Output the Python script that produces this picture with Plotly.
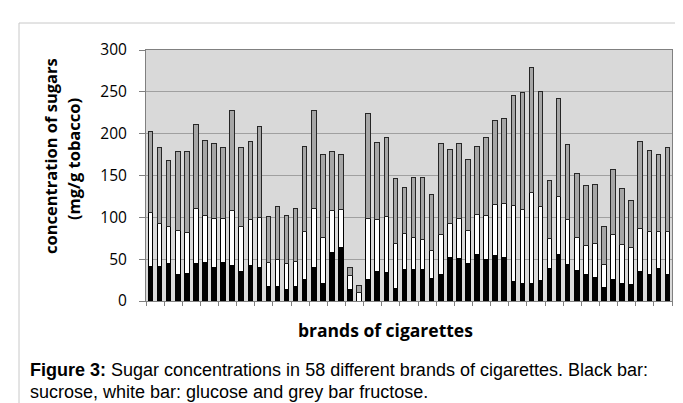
import plotly.graph_objects as go

brands = [str(i) for i in range(1, 59)]

sucrose = [41.5, 40.7, 44.3, 31.1, 32.7, 45.0, 45.9, 39.9, 45.9, 42.3,
           35.5, 42.3, 39.5, 17.6, 16.8, 13.2, 17.6, 26.3, 39.5, 20.7,
           57.8, 63.8, 13.2, 0.0, 26.3, 34.7, 33.5, 14.4, 37.5, 37.5,
           37.5, 27.1, 31.1, 51.9, 50.3, 45.0, 55.8, 49.9, 53.8, 51.9,
           23.1, 20.7, 21.5, 24.7, 38.7, 55.8, 43.9, 36.0, 31.1, 27.5,
           16.4, 25.9, 21.5, 20.3, 35.5, 31.1, 38.7, 31.1]
glucose = [64.2, 52.3, 44.7, 53.1, 49.1, 65.5, 55.8, 59.0, 52.6, 65.4,
           53.1, 55.0, 60.2, 28.7, 32.7, 31.5, 29.5, 56.3, 70.6, 55.1,
           50.3, 45.9, 16.7, 10.0, 71.8, 62.6, 67.4, 54.2, 43.5, 38.3,
           35.9, 33.5, 48.7, 41.1, 48.2, 39.2, 47.5, 51.8, 61.9, 65.0,
           90.6, 89.0, 108.5, 87.8, 35.5, 69.0, 53.1, 39.6, 35.1, 41.1,
           26.7, 53.5, 45.9, 43.9, 51.1, 52.3, 43.9, 51.5]
fructose = [96.3, 91.0, 79.0, 94.8, 97.2, 100.5, 90.3, 89.1, 85.5, 120.3,
            95.4, 93.7, 109.3, 54.7, 63.5, 57.3, 63.9, 102.4, 117.9, 99.2,
            70.9, 65.8, 10.4, 8.7, 125.9, 92.7, 95.1, 78.4, 55.0, 72.2,
            74.1, 67.0, 108.2, 88.5, 89.5, 84.8, 81.3, 93.3, 99.7, 100.9,
            132.3, 139.3, 149.6, 137.5, 69.4, 117.2, 90.5, 77.2, 71.4, 71.0,
            46.3, 77.4, 67.6, 56.3, 104.4, 96.6, 92.9, 101.4]

y_ticks = [0, 50, 100, 150, 200, 250, 300]

fig = go.Figure()
fig.add_trace(go.Bar(x=brands, y=sucrose, name="sucrose",
                     marker=dict(color="#000000", line=dict(color="#000000", width=1))))
fig.add_trace(go.Bar(x=brands, y=glucose, name="glucose",
                     marker=dict(color="#ffffff", line=dict(color="#000000", width=1))))
fig.add_trace(go.Bar(x=brands, y=fructose, name="fructose",
                     marker=dict(color="#a6a6a6", line=dict(color="#262626", width=1))))

fig.update_layout(
    barmode="stack",
    bargap=0.5,
    width=683, height=403,
    margin=dict(l=138, r=19, t=42, b=110),
    paper_bgcolor="#ffffff",
    plot_bgcolor="#d9d9d9",
    showlegend=False,
    font=dict(family="Open Sans", color="#000000"),
)
fig.update_xaxes(
    type="category",
    showticklabels=False,
    tickson="boundaries",
    ticks="outside", ticklen=4, tickcolor="#808080", tickwidth=1,
    showline=True, linecolor="#808080", linewidth=1, mirror=True,
    showgrid=False,
)
fig.update_yaxes(
    range=[0, 300],
    tickvals=y_ticks,
    ticktext=[str(v) for v in y_ticks],
    tickfont=dict(family="Open Sans", size=15.5, color="#000000"),
    ticks="outside", ticklen=6, tickcolor="#808080",
    ticklabelstandoff=9,
    showline=True, linecolor="#808080", linewidth=1, mirror=True,
    showgrid=True, gridcolor="#a0a0a0", gridwidth=1,
    zeroline=False,
)

# y-axis title (two lines)
fig.add_annotation(xref="paper", yref="paper", x=(42 - 138) / 526, y=(293 - 148) / 251,
                   text="<b>concentration of sugars</b>", textangle=-90,
                   showarrow=False, font=dict(family="Open Sans", size=16.5, color="#000000"),
                   xanchor="center", yanchor="middle")
fig.add_annotation(xref="paper", yref="paper", x=(65 - 138) / 526, y=(293 - 151) / 251,
                   text="<b>(mg/g tobacco)</b>", textangle=-90,
                   showarrow=False, font=dict(family="Open Sans", size=16.5, color="#000000"),
                   xanchor="center", yanchor="middle")
# x-axis title
fig.add_annotation(xref="paper", yref="paper", x=(377 - 138) / 526, y=(293 - 322) / 251,
                   text="<b>brands of cigarettes</b>",
                   showarrow=False, font=dict(family="Open Sans", size=17.5, color="#000000"),
                   xanchor="center", yanchor="middle")
# caption
fig.add_annotation(xref="paper", yref="paper", x=(20 - 138) / 526, y=(293 - 362) / 251,
                   text="<b>Figure 3:</b> Sugar concentrations in 58 different brands of cigarettes. Black bar:",
                   showarrow=False, font=dict(family="Liberation Sans", size=18, color="#000000"),
                   xanchor="left", yanchor="middle", align="left")
fig.add_annotation(xref="paper", yref="paper", x=(20 - 138) / 526, y=(293 - 384) / 251,
                   text="sucrose, white bar: glucose and grey bar fructose.",
                   showarrow=False, font=dict(family="Liberation Sans", size=18, color="#000000"),
                   xanchor="left", yanchor="middle", align="left")

# outer frame lines
fig.add_shape(type="line", xref="paper", yref="paper",
              x0=(11 - 138) / 526, x1=(683 - 138) / 526,
              y0=(293 - 15) / 251, y1=(293 - 15) / 251,
              line=dict(color="#c8c8c8", width=1))
fig.add_shape(type="line", xref="paper", yref="paper",
              x0=(11 - 138) / 526, x1=(11 - 138) / 526,
              y0=(293 - 15) / 251, y1=(293 - 403) / 251,
              line=dict(color="#c8c8c8", width=1))

fig.write_html("out.html")
